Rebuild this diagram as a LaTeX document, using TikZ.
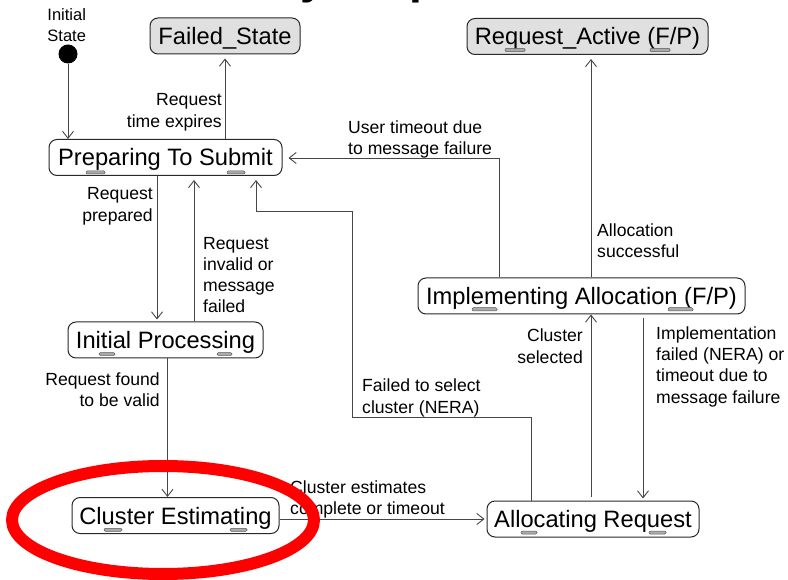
\documentclass[tikz,border=0pt]{standalone}
\usepackage{fontspec}
\setmainfont{Liberation Sans}
\usetikzlibrary{arrows.meta}

\newcommand\statefs{\fontsize{23.7}{28}\selectfont}
\newcommand\lblfs{\fontsize{17.6}{21.3}\selectfont}
\newcommand\initfs{\fontsize{16.5}{21}\selectfont}
\newcommand\headfs{\fontsize{46}{50}\selectfont\bfseries}

\definecolor{edge}{RGB}{70,70,70}
\definecolor{stateborder}{RGB}{40,40,40}
\definecolor{finalfill}{RGB}{224,224,224}
\definecolor{keyfill}{RGB}{170,170,170}
\definecolor{keyline}{RGB}{90,90,90}
\definecolor{circlered}{RGB}{255,0,0}

\begin{document}
\begin{tikzpicture}[x=1pt,y=-1pt,
  state/.style={draw=stateborder, line width=1pt, rounded corners=8pt, fill=white,
    font=\statefs, inner sep=0pt, text height=17pt, text depth=0pt, minimum height=36pt},
  final/.style={state, fill=finalfill},
  lbl/.style={font=\lblfs, inner sep=0pt, text=black},
  arr/.style={draw=edge, line width=0.9pt, -{Straight Barb[length=7pt,width=11pt]}},
  hotkey/.style={draw=keyline, fill=keyfill, line width=0.5pt, rounded corners=1.2pt},
]
\useasboundingbox (0,0) rectangle (788,580);
\clip (0,0) rectangle (788,580);

% heading letters running off the top edge
\node[font=\headfs, anchor=base west, inner sep=0pt] (hy) at (300,-6) {y};
\node[font=\headfs, anchor=base west, inner sep=0pt] (hp) at (409,-6.5) {p};

% states
\node[final, minimum width=150pt] (fs) at (225,36) {Failed\_State};
\node[final, minimum width=241pt] (ra) at (587.5,36.5) {Request\_Active (F/P)};
\node[state, minimum width=233pt] (ps) at (165.5,157.5) {Preparing To Submit};
\node[state, minimum width=195pt] (ip) at (165.5,340) {Initial Processing};
\node[state, minimum width=207pt] (ce) at (175.5,515.5) {Cluster Estimating};
\node[state, minimum width=212pt] (ar) at (593,519) {Allocating Request};
\node[state, minimum width=327pt] (ia) at (581.5,296) {Implementing Allocation (F/P)};

% access-key marks under the state names
\draw[hotkey] (505,48.3) rectangle (525,51.7);
\draw[hotkey] (650,48.3) rectangle (670,51.7);
\draw[hotkey] (86,171) rectangle (105,174);
\draw[hotkey] (227,171) rectangle (245,174);
\draw[hotkey] (99,352.7) rectangle (115,355.5);
\draw[hotkey] (217,352.7) rectangle (232,355.5);
\draw[hotkey] (104,528.3) rectangle (122,531.3);
\draw[hotkey] (230,528.3) rectangle (247,531.3);
\draw[hotkey] (521,531) rectangle (537,534);
\draw[hotkey] (649,531) rectangle (666,534);
\draw[hotkey] (472,307.7) rectangle (497,311);
\draw[hotkey] (668,307.7) rectangle (693,311);

% initial pseudo-state
\node[circle, fill=black, minimum size=19pt, inner sep=0pt] (init) at (68,54) {};
\node[font=\initfs, align=center, inner sep=0pt, anchor=north] (initlbl) at (66.7,8) {Initial\\State};

% routing points
\coordinate (xb) at (225,0);
\coordinate (xj) at (591,0);
\coordinate (xk) at (643,0);
\coordinate (xe) at (157,0);
\coordinate (xf) at (194,0);
\coordinate (xh) at (167.5,0);
\coordinate (d1) at (499,158);
\coordinate (g1) at (531,417);
\coordinate (g2) at (352,417);
\coordinate (g3) at (352,211);
\coordinate (g4) at (256,211);

% transitions
\draw[arr] (init) -- (init |- ps.north);
\draw[arr, shorten >=4pt] (ps.north -| xb) -- (fs.south -| xb);
\draw[arr, shorten >=4pt] (ia.north -| xj) -- (ra.south -| xj);
\draw[arr, shorten >=6pt] (ia.north -| d1) -- (d1) -- (d1 -| ps.east);
\draw[arr, shorten >=2pt] (ps.south -| xe) -- (ip.north -| xe);
\draw[arr, shorten >=4pt] (ip.north -| xf) -- (ps.south -| xf);
\draw[arr, shorten >=4pt] (ar.north -| g1) -- (g1) -- (g2) -- (g3) -- (g4) -- (ps.south -| g4);
\draw[arr] (ip.south -| xh) -- (ce.north -| xh);
\draw[arr, shorten >=2pt] (ce.east |- ar.west) -- (ar.west);
\draw[arr, shorten <=4pt] (ar.north -| xj) -- (ia.south -| xj);
\draw[arr, shorten <=4pt, shorten >=2pt] (ia.south -| xk) -- (ar.north -| xk);

% transition labels
\node[lbl, align=right, anchor=north east] (l1) at (222,93.4) {Request\\time expires};
\node[lbl, align=left, anchor=north west] (l2) at (348,120.4) {User timeout due\\to message failure};
\node[lbl, align=right, anchor=north east] (l3) at (153,187.4) {Request\\prepared};
\node[lbl, align=left, anchor=north west] (l4) at (203,236.7) {Request\\invalid or\\message\\failed};
\node[lbl, align=right, anchor=north east] (l5) at (160,372.7) {Request found\\to be valid};
\node[lbl, align=left, anchor=north west] (l6) at (362,379) {Failed to select\\cluster (NERA)};
\node[lbl, align=left, anchor=north west] (l7) at (290,480.4) {Cluster estimates\\complete or timeout};
\node[lbl, align=left, anchor=north west] (l8) at (597,223.4) {Allocation\\successful};
\node[lbl, align=right, anchor=north east] (l9) at (583,329) {Cluster\\selected};
\node[lbl, align=left, anchor=north west] (l10) at (656,326.4) {Implementation\\failed (NERA) or\\timeout due to\\message failure};

% highlight ring
\draw[circlered, line width=12pt] (163,520) ellipse [x radius=151pt, y radius=54pt];
\end{tikzpicture}
\end{document}
